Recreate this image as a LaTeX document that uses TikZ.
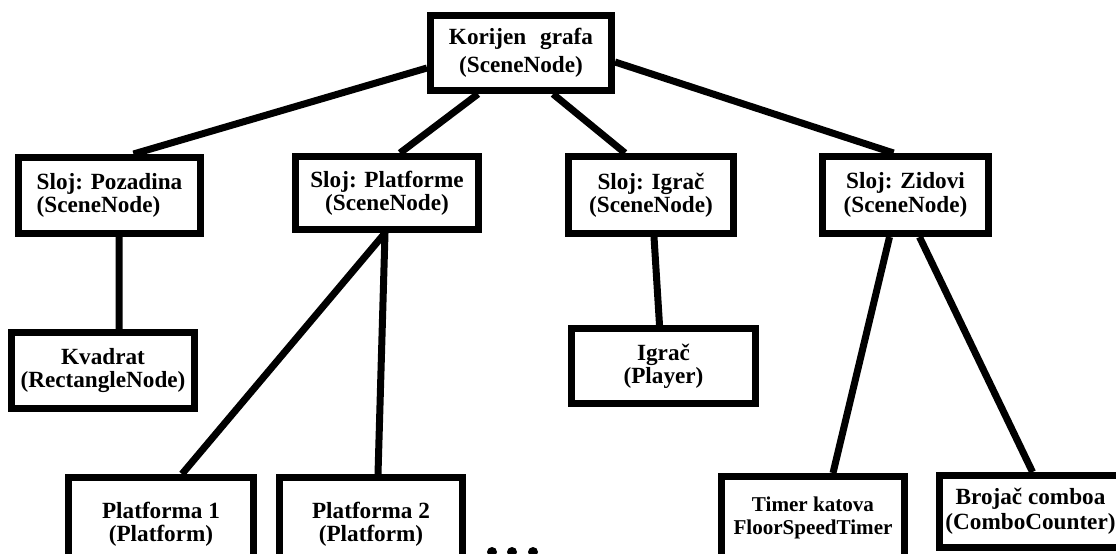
\documentclass[tikz,border=0pt]{standalone}
\usepackage{fontspec}
\setmainfont{Liberation Serif}
\usetikzlibrary{calc}
\usetikzlibrary{backgrounds}

\begin{document}
\begin{tikzpicture}[x=0.025cm, y=-0.025cm,
        box/.style={draw, line width=0.175cm, fill=white, align=center, inner sep=0pt,
            font=\bfseries\fontsize{16.5}{16.5}\selectfont},
        boxsize/.style 2 args={minimum width={#1*0.025cm}, minimum height={#2*0.025cm}},
        edge/.style={line width=0.175cm}]%
        \useasboundingbox (0,0) rectangle (1116,553);
        \clip (0,0) rectangle (1116,553);
        % root and layers
        \node [box, boxsize={181}{75}, font=\bfseries\fontsize{16.5}{20}\selectfont] (root) at (521,53) {Korijen\hspace{0.6em}grafa\\(SceneNode)};
        \node [box, boxsize={182}{76}, align=left] (pozadina) at (109.5,195.5) {Sloj: Pozadina\\(SceneNode)};
        \node [box, boxsize={183}{73}] (platforme) at (387,193) {Sloj: Platforme\\(SceneNode)};
        \node [box, boxsize={165}{77}] (slojigrac) at (651,195) {Sloj: Igrač\\(SceneNode)};
        \node [box, boxsize={166}{77}] (zidovi) at (905.5,195) {Sloj: Zidovi\\(SceneNode)};
        % leaves
        \node [box, boxsize={183}{76}] (kvadrat) at (103,370.5) {Kvadrat\\(RectangleNode)};
        \node [box, boxsize={184}{75}] (igrac) at (663.5,366) {Igrač\\(Player)};
        \node [box, boxsize={185}{93}] (platforma1) at (161,524) {Platforma 1\\(Platform)};
        \node [box, boxsize={183}{93}] (platforma2) at (371,524) {Platforma 2\\(Platform)};
        \node [box, boxsize={183}{83}, font=\bfseries\fontsize{15}{16.5}\selectfont] (timer) at (813,518) {Timer katova\\FloorSpeedTimer};
        \node [box, boxsize={182}{72}, font=\bfseries\fontsize{16.5}{18}\selectfont] (brojac) at (1030.5,511.5) {Brojač comboa\\(ComboCounter)};
        \foreach \x in {492, 512, 533} {
            \fill (\x, 552) circle(0.125cm);
        }
        \begin{scope}[on background layer]
            \draw [edge] ($(root.west)+(0,15)$) to ($(pozadina.north)+(24,0)$);
            \draw [edge] ($(root.south)+(-43,0)$) to ($(platforme.north)+(13,0)$);
            \draw [edge] ($(root.south)+(32,0)$) to ($(slojigrac.north)+(-26,0)$);
            \draw [edge] ($(root.east)+(0,9)$) to ($(zidovi.north)+(-12,0)$);
            \draw [edge] ($(pozadina.south)+(9.5,0)$) to ($(kvadrat.north)+(16,0)$);
            \draw [edge] ($(platforme.south)+(-2,0)$) to ($(platforma1.north)+(21,0)$);
            \draw [edge] ($(platforme.south)+(-2,0)$) to ($(platforma2.north)+(7,0)$);
            \draw [edge] ($(slojigrac.south)+(3,0)$) to ($(igrac.north)+(-4,0)$);
            \draw [edge] ($(zidovi.south)+(-16,0)$) to ($(timer.north)+(20,0)$);
            \draw [edge] ($(zidovi.south)+(14,0)$) to ($(brojac.north)+(2,0)$);
        \end{scope}
    \end{tikzpicture}
\end{document}
